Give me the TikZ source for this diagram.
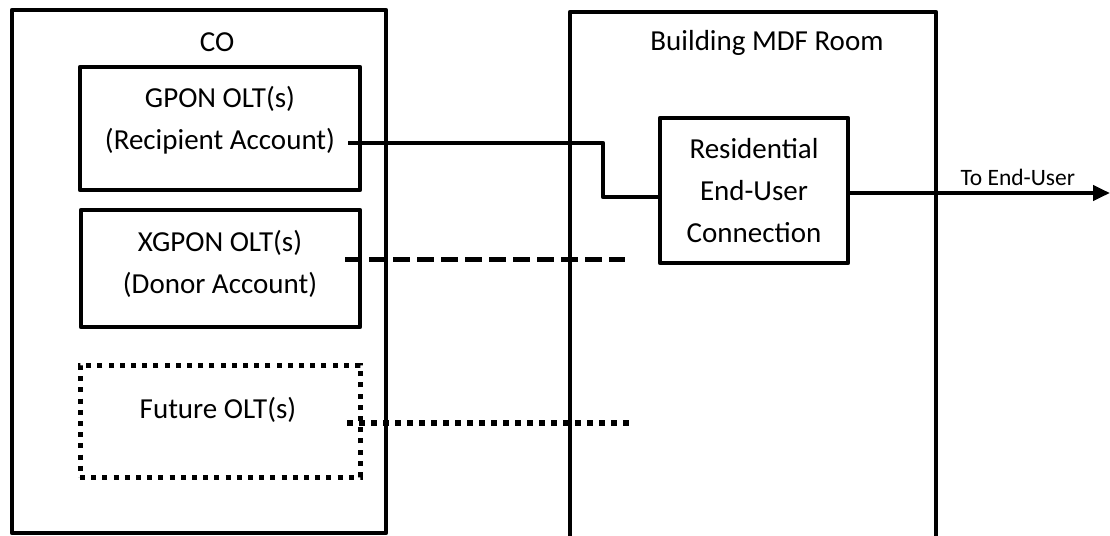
\documentclass[tikz,border=0pt]{standalone}
\usepackage{fontspec}
\setmainfont{Carlito}
\usetikzlibrary{arrows.meta}
\begin{document}
\begin{tikzpicture}[x=1pt,y=-1pt,
  thick line/.style={line width=4.5pt},
  boxnode/.style={draw,line width=4.5pt,rectangle,inner sep=0pt,line join=round},
  txt/.style={font=\fontsize{29}{42}\selectfont,align=center,inner sep=0pt},
  smalltxt/.style={font=\fontsize{23.5}{28}\selectfont,inner sep=0pt},
  dashline/.style={line width=5pt,dash pattern=on 17pt off 7pt},
  dotline/.style={line width=5.5pt,dash pattern=on 5.5pt off 6.5pt},
  dotbox/.style={draw,line width=5pt,dash pattern=on 5pt off 6.2pt,rectangle,inner sep=0pt}
]
\useasboundingbox (0,0) rectangle (1110,535);
% room containers
\node[boxnode,minimum width=374pt,minimum height=523pt] (co) at (199,271.5) {};
\draw[thick line,line join=round] (570,540) -- (570,12) -- (936,12) -- (936,540);
\node[txt] (colabel) at (217,42) {CO};
\node[txt] (mdflabel) at (767,43) {Building MDF Room};
% OLT boxes
\node[boxnode,minimum width=280pt,minimum height=123pt] (gpon) at (220,128.5) {};
\node[txt] (gpontxt) at (220,120.5) {GPON OLT(s)\\(Recipient Account)};
\node[boxnode,minimum width=279pt,minimum height=117pt] (xgpon) at (220.5,268.5) {};
\node[txt] (xgpontxt) at (220,264) {XGPON OLT(s)\\(Donor Account)};
\node[dotbox,minimum width=280pt,minimum height=112pt] (future) at (220,421) {};
\node[txt] (futuretxt) at (218,410) {Future OLT(s)};
% residential
\node[boxnode,minimum width=188pt,minimum height=145pt] (res) at (754,190.5) {};
\node[txt] (restxt) at (754,190.5) {Residential\\End-User\\Connection};
% connectors
\coordinate (gstart) at (348,143);
\coordinate (gbend) at (603,143);
\draw[thick line,line join=round] (gstart) -- (gbend) |- ([yshift=-6.5pt]res.west);
\coordinate (xstart) at (345,259);
\coordinate (xend) at (625,259);
\draw[dashline] (xstart) -- (xend);
\coordinate (fstart) at (347,423);
\coordinate (fend) at (632,423);
\draw[dotline] (fstart) -- (fend);
\coordinate (enduser) at (1110,193);
\draw[thick line,-{Triangle[length=17pt,width=15pt]}] ([yshift=-2.5pt]res.east) -- (enduser)
  node[smalltxt,pos=0.645,above=5pt] (eulabel) {To End-User};
\end{tikzpicture}
\end{document}
